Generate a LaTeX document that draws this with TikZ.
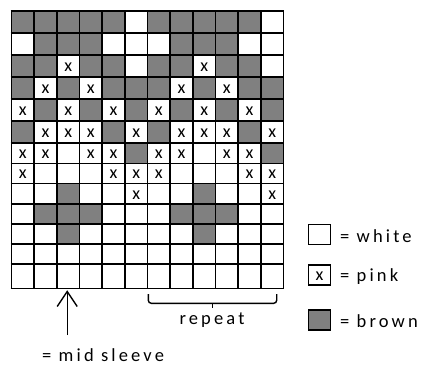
\documentclass[tikz,border=0pt]{standalone}
\usepackage{fontspec}
\usetikzlibrary{calc}
\newfontfamily\lbl[LetterSpace=17]{Carlito}
\newfontfamily\xfnt{Carlito}
\definecolor{brownfill}{RGB}{128,128,128}
\tikzset{
  gridline/.style={line width=1.8pt, black},
  brownbox/.style={fill=brownfill, draw=none},
  pinkmark/.style={font=\xfnt\fontsize{18}{18}\selectfont, inner sep=0pt},
  legbox/.style={draw=black, line width=1.8pt, minimum width=22pt, minimum height=20pt, inner sep=0pt, anchor=north west},
  legtext/.style={font=\lbl\fontsize{18.5}{20}\selectfont, anchor=base west, inner sep=0pt},
  thinline/.style={line width=1.4pt, black}
}
\begin{document}
\begin{tikzpicture}[x=1pt,y=-1pt]
\useasboundingbox (0,0) rectangle (422,369);
\def\xa{11.5}
\def\cw{22.667}
% cells
\foreach \row [count=\r] in {
 {B,B,B,B,B,W,B,B,B,B,B,W},
 {W,B,B,B,W,W,W,B,B,B,W,W},
 {B,B,X,B,B,W,B,B,X,B,B,W},
 {B,X,B,X,B,B,B,X,B,X,B,B},
 {X,B,X,B,X,B,X,B,X,B,X,B},
 {B,X,X,X,B,X,B,X,X,X,B,X},
 {X,X,W,X,X,B,X,X,W,X,X,B},
 {X,W,W,W,X,X,X,W,W,W,X,X},
 {W,W,B,W,W,X,W,W,B,W,W,X},
 {W,B,B,B,W,W,W,B,B,B,W,W},
 {W,W,B,W,W,W,W,W,B,W,W,W},
 {W,W,W,W,W,W,W,W,W,W,W,W},
 {W,W,W,W,W,W,W,W,W,W,W,W}} {
  \pgfmathsetmacro\yt{{11,32.7,55,76.7,99,121,143,163.5,183.5,204,224.3,244.3,264,288.5}[\r-1]}
  \pgfmathsetmacro\yb{{11,32.7,55,76.7,99,121,143,163.5,183.5,204,224.3,244.3,264,288.5}[\r]}
  \foreach \c [count=\k] in \row {
    \pgfmathsetmacro\xl{\xa+(\k-1)*\cw}
    \pgfmathsetmacro\xr{\xa+\k*\cw}
    \if\c B
      \fill[brownbox] (\xl,\yt) rectangle (\xr,\yb);
    \fi
    \if\c X
      \node[pinkmark] (x-\r-\k) at ({(\xl+\xr)/2},{(\yt+\yb)/2+1}) {x};
    \fi
  }
}
% grid lines
\foreach \y in {11,32.7,55,76.7,99,121,143,163.5,183.5,204,224.3,244.3,264,288.5}
  \draw[gridline] (\xa-0.9,\y) -- ({\xa+12*\cw+0.9},\y);
\foreach \k in {0,...,12}
  \draw[gridline] ({\xa+\k*\cw},11) -- ({\xa+\k*\cw},288.5);
% arrow
\coordinate (tip) at (67.2,291.5);
\coordinate (tail) at (67.2,335);
\draw[thinline] (tail) -- (tip);
\draw[thinline] ($(tip)+(-10,15)$) -- (tip) -- ($(tip)+(10,15)$);
\node[legtext] (mid) at (42,361) {= mid sleeve};
% repeat brace
\coordinate (bl) at (148.3,294);
\coordinate (br) at (276.7,294);
\draw[thinline, rounded corners=3pt] (bl) -- (148.3,303.3) -- (276.7,303.3) -- (br);
\draw[thinline] (212.5,303.3) -- (212.5,307.5);
\node[legtext, anchor=base] (rep) at (212,324) {repeat};
% legend
\node[legbox] (lw) at (307.5,223.5) {};
\node[legtext] (tw) at (340,242) {= white};
\node[legbox] (lp) at (307.5,264) {};
\node[pinkmark] (lpx) at ($(lp.center)+(0,1)$) {x};
\node[legtext] (tp) at (340,281.5) {= pink};
\node[legbox, fill=brownfill] (lb) at (307.5,309) {};
\node[legtext] (tb) at (340,327) {= brown};
\end{tikzpicture}
\end{document}
